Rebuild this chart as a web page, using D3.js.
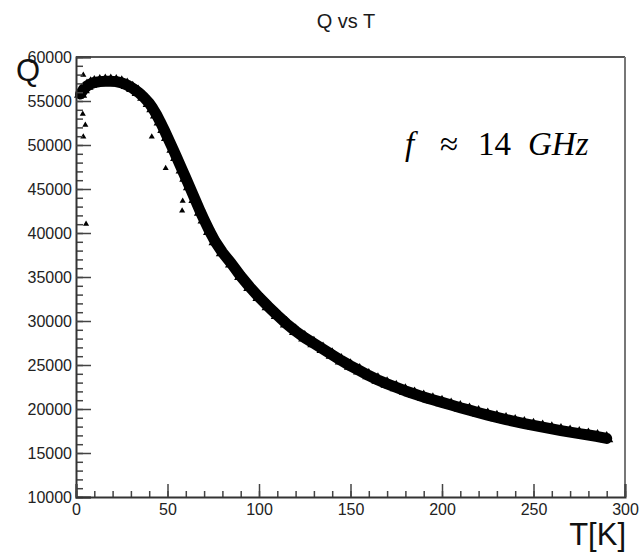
<!DOCTYPE html>
<html>
<head>
<meta charset="utf-8">
<script src="https://cdn.jsdelivr.net/npm/d3@7"></script>
<style>
  html, body { margin: 0; padding: 0; background: #fff; }
  svg { display: block; }
</style>
</head>
<body>
<svg id="chart" width="639" height="552"></svg>
<script>
// ---- data ----
const temperatureK = [2.5, 4, 6, 8, 10, 13, 16, 19, 22, 25, 28, 31, 34, 37, 40, 42, 44, 46, 48, 50,
  53, 55, 58, 60, 62, 65, 68, 70, 73, 76, 80, 85, 90, 95, 100, 105, 110, 115, 120, 125,
  130, 135, 140, 145, 150, 155, 160, 165, 170, 175, 180, 185, 190, 195, 200, 205, 210, 215, 220, 225,
  230, 235, 240, 245, 250, 255, 260, 265, 270, 275, 280, 285, 290];
const qualityQ = [55800, 56300, 56700, 56950, 57100, 57200, 57250, 57250, 57200, 57050, 56800, 56450, 56000, 55450, 54750, 54150, 53450, 52650, 51800, 50900,
  49550, 48600, 47200, 46250, 45300, 43850, 42400, 41500, 40200, 39050, 37800, 36500, 35100, 33850, 32700, 31650, 30650, 29700, 28850, 28100,
  27450, 26800, 26150, 25500, 24900, 24350, 23800, 23300, 22850, 22450, 22050, 21700, 21350, 21050, 20750, 20450, 20150, 19870, 19580, 19300,
  19040, 18800, 18560, 18340, 18130, 17930, 17740, 17550, 17370, 17200, 17040, 16870, 16650];
const outlierT = [4, 2.7, 3.7, 5.1, 4, 5.5, 41.4, 49, 58.3, 58];
const outlierQ = [57950, 55490, 53520, 52270, 50940, 41020, 50940, 47350, 43640, 42530];
const xMajorTicks = [0, 50, 100, 150, 200, 250, 300];
const yMajorTicks = [10000, 15000, 20000, 25000, 30000, 35000, 40000, 45000, 50000, 55000, 60000];
const titleText = "Q vs T";
const xTitle = "T[K]";
const yTitle = "Q";

// ---- layout ----
const svg = d3.select("#chart");
const padL = 76, padR = 625, padT = 57, padB = 497;
const x = d3.scaleLinear().domain([0, 300]).range([padL, padR]);
const y = d3.scaleLinear().domain([10000, 60000]).range([padB, padT]);
const font = "'Liberation Sans', Arial, Helvetica, sans-serif";
const ink = "#1a1a1a";

// title
svg.append("text").attr("x", 346).attr("y", 28).attr("text-anchor", "middle")
  .attr("font-family", font).attr("font-size", 20).attr("fill", ink).text(titleText);

// data band (thick line + triangle markers)
const pts = temperatureK.map((t, i) => [t, qualityQ[i]]);
const line = d3.line().x(d => x(d[0])).y(d => y(d[1]));
svg.append("path").datum(pts).attr("d", line).attr("fill", "none")
  .attr("stroke", "#000").attr("stroke-width", 11).attr("stroke-linejoin", "round").attr("stroke-linecap", "round");

const tri = d3.symbol().type(d3.symbolTriangle);
svg.append("g").selectAll("path").data(pts).join("path")
  .attr("transform", d => `translate(${x(d[0])},${y(d[1])})`)
  .attr("d", tri.size(75)()).attr("fill", "#000");

const outs = outlierT.map((t, i) => [t, outlierQ[i]]);
svg.append("g").selectAll("path").data(outs).join("path")
  .attr("transform", d => `translate(${x(d[0])},${y(d[1])})`)
  .attr("d", d3.symbol().type(d3.symbolTriangle).size(16)()).attr("fill", "#000");

// frame top/right
svg.append("line").attr("x1", padL).attr("x2", padR).attr("y1", padT).attr("y2", padT)
  .attr("stroke", "#555").attr("stroke-width", 2);
svg.append("line").attr("x1", padR).attr("x2", padR).attr("y1", padT).attr("y2", padB)
  .attr("stroke", "#777").attr("stroke-width", 2);

// y axis (ticks inward)
const yMinor = d3.range(10000, 60001, 1000);
svg.append("g").attr("transform", `translate(${padL},0)`)
  .call(d3.axisLeft(y).tickValues(yMinor).tickSize(-7).tickFormat(""))
  .call(g => g.select(".domain").remove())
  .call(g => g.selectAll("line").attr("stroke", "#444").attr("stroke-width", 1.5));
const yAx = svg.append("g").attr("transform", `translate(${padL},0)`)
  .call(d3.axisLeft(y).tickValues(yMajorTicks).tickSize(-15).tickPadding(4).tickFormat(d3.format("d")));
yAx.select(".domain").attr("stroke", "#333").attr("stroke-width", 2);
yAx.selectAll("line").attr("stroke", "#444").attr("stroke-width", 1.5);
yAx.selectAll("text").attr("font-family", font).attr("font-size", 16).attr("fill", "#222");

// x axis
const xMinor = d3.range(0, 301, 10);
svg.append("g").attr("transform", `translate(0,${padB})`)
  .call(d3.axisBottom(x).tickValues(xMinor).tickSize(-6).tickFormat(""))
  .call(g => g.select(".domain").remove())
  .call(g => g.selectAll("line").attr("stroke", "#444").attr("stroke-width", 1.5));
const xAx = svg.append("g").attr("transform", `translate(0,${padB})`)
  .call(d3.axisBottom(x).tickValues(xMajorTicks).tickSize(-13).tickPadding(7).tickFormat(d3.format("d")));
xAx.select(".domain").attr("stroke", "#333").attr("stroke-width", 2);
xAx.selectAll("line").attr("stroke", "#444").attr("stroke-width", 1.5);
xAx.selectAll("text").attr("font-family", font).attr("font-size", 16).attr("fill", "#222");

// axis titles
svg.append("text").attr("x", 16).attr("y", 81).attr("font-family", font)
  .attr("font-size", 31).attr("fill", "#111").text(yTitle);
svg.append("text").attr("x", 626).attr("y", 545).attr("text-anchor", "end").attr("font-family", font)
  .attr("font-size", 31).attr("fill", "#111").text(xTitle);

// annotation
const serif = "'Liberation Serif', 'DejaVu Serif', serif";
const ann = svg.append("g").attr("font-family", serif).attr("font-size", 33).attr("fill", "#000");
ann.append("text").attr("x", 405).attr("y", 155).attr("font-style", "italic").text("f");
ann.append("text").attr("x", 440).attr("y", 155).text("≈");
ann.append("text").attr("x", 478).attr("y", 155).text("14");
ann.append("text").attr("x", 528).attr("y", 155).attr("font-style", "italic").text("GHz");
</script>
</body>
</html>
